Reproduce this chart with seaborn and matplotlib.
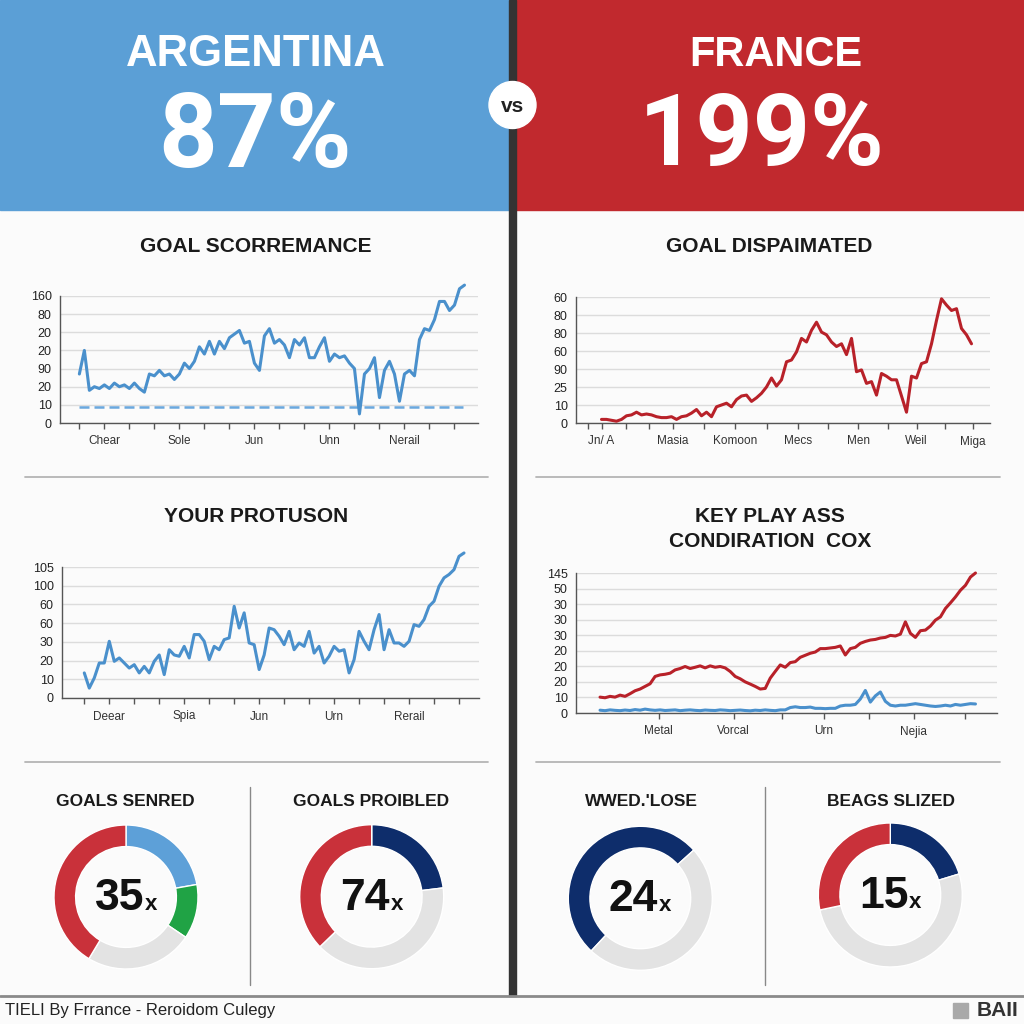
import numpy as np
import pandas as pd
import matplotlib
matplotlib.use("Agg")
import matplotlib.pyplot as plt
from matplotlib.patches import Rectangle, Circle
import seaborn as sns

sns.set_theme(style="white")
plt.rcParams['font.family'] = ['Liberation Sans', 'DejaVu Sans']

# ---------------- DATA ----------------
team_left = "ARGENTINA"
team_right = "FRANCE"
pct_left = "87%"
pct_right = "199%"

titles = ["GOAL SCORREMANCE", "GOAL DISPAIMATED", "YOUR PROTUSON", "KEY PLAY ASS\nCONDIRATION  COX"]

# chart 1 (Argentina, goal scorremance) - values in grid-row units
arg_goal = [2.7, 4.0, 1.8, 2.0, 1.9, 2.1, 1.9, 2.2, 2.0, 2.1,
            1.9, 2.2, 1.9, 1.7, 2.7, 2.6, 2.9, 2.6, 2.7, 2.4,
            2.7, 3.3, 3.0, 3.4, 4.2, 3.8, 4.5, 3.8, 4.5, 4.1,
            4.7, 4.9, 5.1, 4.4, 4.5, 3.3, 2.9, 4.8, 5.2, 4.4,
            4.6, 4.3, 3.6, 4.6, 4.3, 4.7, 3.6, 3.6, 4.2, 4.7,
            3.4, 3.8, 3.6, 3.7, 3.3, 3.0, 0.5, 2.7, 3.0, 3.6,
            1.4, 2.9, 3.4, 2.7, 1.2, 2.7, 2.9, 2.6, 4.6, 5.2,
            5.1, 5.7, 6.7, 6.7, 6.2, 6.5, 7.4, 7.6]
arg_goal_base = 0.86
arg_goal_ylabels = ["0", "10", "20", "90", "20", "20", "80", "160"]
arg_goal_xlabels = ["Chear", "Sole", "Jun", "Unn", "Nerail"]

# chart 2 (France, goal dispaimated)
fra_goal = [0.2, 0.2, 0.15, 0.1, 0.2, 0.4, 0.45, 0.6, 0.45, 0.5,
            0.45, 0.35, 0.3, 0.3, 0.35, 0.2, 0.35, 0.4, 0.55, 0.75,
            0.4, 0.6, 0.35, 0.9, 1.0, 1.1, 0.9, 1.3, 1.5, 1.55,
            1.2, 1.4, 1.65, 2.0, 2.5, 2.05, 2.4, 3.4, 3.5, 3.95,
            4.7, 4.5, 5.15, 5.6, 5.05, 4.9, 4.5, 4.25, 4.4, 3.8,
            4.7, 2.85, 2.95, 2.2, 2.3, 1.55, 2.75, 2.6, 2.4, 2.4,
            1.5, 0.6, 2.6, 2.5, 3.3, 3.4, 4.4, 5.7, 6.9, 6.55,
            6.25, 6.35, 5.25, 4.9, 4.4]
fra_goal_ylabels = ["0", "10", "25", "90", "60", "80", "80", "60"]
fra_goal_xlabels = ["Jn/ A", "Masia", "Komoon", "Mecs", "Men", "Weil", "Miga"]

# chart 3 (Argentina, your protuson)
arg_prot = [1.34, 0.53, 1.07, 1.87, 1.87, 3.03, 1.96, 2.14, 1.87, 1.6,
            1.78, 1.34, 1.69, 1.34, 1.96, 2.3, 1.25, 2.58, 2.3, 2.23,
            2.76, 2.14, 3.39, 3.39, 3.03, 2.05, 2.76, 2.58, 3.12, 3.21,
            4.9, 3.74, 4.55, 2.94, 2.85, 1.52, 2.3, 3.74, 3.65, 3.3,
            2.85, 3.56, 2.58, 2.94, 2.76, 3.56, 2.4, 2.76, 1.87, 2.23,
            2.76, 2.5, 2.58, 1.34, 2.05, 3.56, 3.03, 2.58, 3.65, 4.46,
            2.58, 3.65, 2.94, 2.94, 2.76, 3.03, 3.92, 3.83, 4.19, 4.9,
            5.17, 5.97, 6.42, 6.6, 6.86, 7.57, 7.75]
arg_prot_ylabels = ["0", "10", "20", "30", "60", "60", "100", "105"]
arg_prot_xlabels = ["Deear", "Spia", "Jun", "Urn", "Rerail"]

# chart 4 (France, key play ass) - two series
fra_key_red = [1.02, 0.98, 1.07, 1.02, 1.15, 1.07, 1.24, 1.43, 1.54, 1.71,
               1.88, 2.35, 2.45, 2.49, 2.56, 2.77, 2.86, 2.99, 2.86, 2.94,
               3.03, 2.9, 3.03, 2.94, 2.99, 2.9, 2.67, 2.35, 2.2, 2.0,
               1.86, 1.71, 1.54, 1.58, 2.24, 2.67, 3.09, 2.94, 3.24, 3.3,
               3.58, 3.71, 3.84, 3.92, 4.14, 4.14, 4.18, 4.22, 4.31, 3.73,
               4.14, 4.22, 4.48, 4.6, 4.69, 4.73, 4.82, 4.86, 4.99, 4.95,
               5.07, 5.86, 5.12, 4.86, 5.29, 5.33, 5.59, 5.97, 6.18, 6.72,
               7.08, 7.46, 7.89, 8.21, 8.74, 9.0]
fra_key_blue = [0.18, 0.15, 0.2, 0.17, 0.15, 0.19, 0.16, 0.22, 0.18, 0.25,
                0.2, 0.17, 0.2, 0.16, 0.18, 0.2, 0.15, 0.18, 0.2, 0.17,
                0.15, 0.19, 0.17, 0.16, 0.2, 0.18, 0.15, 0.17, 0.19, 0.16,
                0.14, 0.18, 0.16, 0.2, 0.17, 0.15, 0.2,
                0.2, 0.35, 0.4, 0.35, 0.35, 0.38, 0.3, 0.3, 0.28, 0.3,
                0.3, 0.45, 0.5, 0.5, 0.55, 0.9, 1.45, 0.7, 1.1, 1.35,
                0.75, 0.5, 0.45, 0.5, 0.5, 0.55, 0.6, 0.55, 0.5, 0.45,
                0.42, 0.45, 0.5, 0.45, 0.55, 0.5, 0.55, 0.6, 0.58]
fra_key_ylabels = ["0", "10", "20", "20", "20", "30", "30", "30", "50", "145"]
fra_key_xlabels = ["Metal", "Vorcal", "Urn", "Nejia"]

# donuts (segment sizes in degrees, clockwise from top)
donut_titles = ["GOALS SENRED", "GOALS PROIBLED", "WWED.'LOSE", "BEAGS SLIZED"]
donut_numbers = ["35", "74", "24", "15"]
donut1_vals = [80, 44, 87, 149]
donut2_vals = [83, 143, 134]
donut3_vals = [185, 175]
donut4_vals = [73, 185, 102]

footer_text = "TIELI By Frrance - Reroidom Culegy"
logo_text = "BAII"

# ---------------- STYLE ----------------
BLUE_BG = "#5B9FD6"
RED_BG = "#C1292E"
LINE_BLUE = "#4A90CC"
LINE_RED = "#B82129"
D_RED = "#C9313A"
D_LBLUE = "#5DA0D8"
D_GREEN = "#20A345"
D_GRAY = "#E3E3E3"
D_NAVY = "#0E2D6B"
TXT = "#1a1a1a"

W = H = 1024
fig = plt.figure(figsize=(10.24, 10.24), dpi=100, facecolor="#fbfbfb")


def rect(x0, y0, x1, y1):
    return [x0 / W, 1 - y1 / H, (x1 - x0) / W, (y1 - y0) / H]


bg = fig.add_axes([0, 0, 1, 1], zorder=0)
bg.set_xlim(0, W)
bg.set_ylim(H, 0)
bg.axis("off")

# header panels
bg.add_patch(Rectangle((0, 0), 510, 210, color=BLUE_BG, zorder=1))
bg.add_patch(Rectangle((514, 0), 510, 210, color=RED_BG, zorder=1))
bg.add_patch(Rectangle((509, 0), 7, 996, color="#333333", zorder=2))
bg.add_patch(Circle((512.5, 105), 23.5, color="white", zorder=3))
bg.text(512.5, 106, "vs", ha="center", va="center", fontsize=15, fontweight="bold",
        color="#222222", zorder=4)

bg.text(256, 55, team_left, ha="center", va="center", fontsize=31.5, fontweight="bold", color="white")
bg.text(776, 55, team_right, ha="center", va="center", fontsize=30, fontweight="bold", color="white")
big_font = ["Roboto", "Liberation Sans", "DejaVu Sans"]
bg.text(255, 138, pct_left, ha="center", va="center", fontsize=74, fontweight="bold",
        color="white", family=big_font)
bg.text(762, 138, pct_right, ha="center", va="center", fontsize=72, fontweight="bold",
        color="white", family=big_font)

# chart titles
bg.text(256, 247, titles[0], ha="center", va="center", fontsize=15, fontweight="bold", color=TXT)
bg.text(769, 247, titles[1], ha="center", va="center", fontsize=15, fontweight="bold", color=TXT)
bg.text(256, 517, titles[2], ha="center", va="center", fontsize=15, fontweight="bold", color=TXT)
bg.text(770, 529, titles[3], ha="center", va="center", fontsize=15, fontweight="bold", color=TXT,
        linespacing=1.45)

# separators
for yy in (477, 762):
    bg.plot([25, 488], [yy, yy], color="#b5b5b5", lw=1.3)
    bg.plot([536, 1000], [yy, yy], color="#b5b5b5", lw=1.3)
bg.plot([250, 250], [787, 985], color="#888888", lw=1)
bg.plot([765, 765], [787, 985], color="#888888", lw=1)

# footer
bg.plot([0, W], [996, 996], color="#8a8a8a", lw=2)
bg.text(5, 1011, footer_text, ha="left", va="center", fontsize=12, color="#222222")
bg.add_patch(Rectangle((953, 1003), 15, 15, color="#a9a9a9"))
bg.text(1018, 1011, logo_text, ha="right", va="center", fontsize=15, fontweight="bold",
        color="#333333")


# ---------------- LINE PANELS ----------------
def line_panel(box, series, colors, xlim, ylabels, xticks, xlabels, minor):
    ax = fig.add_axes(rect(*box), zorder=2)
    ax.set_facecolor("none")
    for vals, col in zip(series, colors):
        df = pd.DataFrame({"t": np.arange(len(vals)), "v": vals})
        sns.lineplot(data=df, x="t", y="v", ax=ax, color=col, lw=2.2, clip_on=False,
                     zorder=3)
    ax.set_xlim(*xlim)
    ax.set_ylim(0, len(ylabels) - 1)
    ax.set_yticks(range(len(ylabels)))
    ax.set_yticklabels(ylabels)
    ax.set_xticks(xticks)
    ax.set_xticklabels(xlabels)
    ax.set_xticks(minor, minor=True)
    ax.set_xlabel("")
    ax.set_ylabel("")
    ax.yaxis.grid(True, color="#dcdcdc", lw=1, zorder=0)
    ax.xaxis.grid(False)
    for s in ("top", "right"):
        ax.spines[s].set_visible(False)
    for s in ("left", "bottom"):
        ax.spines[s].set_color("#555555")
        ax.spines[s].set_linewidth(1)
    ax.tick_params(axis="y", length=0, pad=6, labelsize=9, labelcolor="#222222")
    ax.tick_params(axis="x", which="both", direction="out", length=4, width=1,
                   color="#555555", pad=5, labelsize=8.5, labelcolor="#333333", bottom=True)
    return ax


# chart 1
ax1 = line_panel((60, 296, 478, 423), [arg_goal], [LINE_BLUE], (-3.87, 79.7),
                 arg_goal_ylabels, [5, 20, 35, 50, 65], arg_goal_xlabels,
                 [0, 10, 15, 25, 30, 40, 45, 55, 60, 70, 75])
ax1.hlines(arg_goal_base, 0, len(arg_goal) - 1.2, colors="#6aa8de", lw=1.8,
           linestyles=(0, (4, 2)), zorder=2)

# chart 2
ax2 = line_panel((576, 297, 990, 423), [fra_goal], [LINE_RED], (-5.1, 77.7),
                 fra_goal_ylabels, [0, 14.3, 26.7, 39.3, 51.3, 63, 74.3], fra_goal_xlabels,
                 [-2.8, 4.8, 9.5, 20.5, 33, 45.3, 57.2, 68.7])

# chart 3
ax3 = line_panel((62, 567, 479, 698), [arg_prot], [LINE_BLUE], (-4.46, 79),
                 arg_prot_ylabels, [5, 20, 35, 50, 65], arg_prot_xlabels,
                 [0, 10, 15, 25, 30, 40, 45, 55, 60, 70, 75])

# chart 4
ax4 = line_panel((576, 573, 997, 713), [fra_key_red, fra_key_blue], [LINE_RED, LINE_BLUE],
                 (-4.8, 79.3), fra_key_ylabels, [11.7, 26.7, 44.7, 62.7], fra_key_xlabels,
                 [36.3, 53.7, 73])


# ---------------- DONUTS ----------------
def donut(cx, cy, vals, cols, start, number):
    R = 72
    s = R * 1.05
    ax = fig.add_axes(rect(cx - s, cy - s, cx + s, cy + s), zorder=2)
    ax.pie(vals, colors=cols, startangle=start, counterclock=False, radius=1,
           wedgeprops=dict(width=0.3, edgecolor="white", linewidth=1))
    ax.set_xlim(-1.05, 1.05)
    ax.set_ylim(-1.05, 1.05)
    ax.set_aspect("equal")
    ax.axis("off")
    bg.text(cx + 18, cy + 13, number, ha="right", va="baseline", fontsize=32,
            fontweight="bold", color="#111111")
    bg.text(cx + 19, cy + 13, "x", ha="left", va="baseline", fontsize=16,
            fontweight="bold", color="#111111")


donut(126, 897, donut1_vals, [D_LBLUE, D_GREEN, D_GRAY, D_RED], 90, donut_numbers[0])
donut(371.7, 896.7, donut2_vals, [D_NAVY, D_GRAY, D_RED], 90, donut_numbers[1])
donut(640.3, 898.3, donut3_vals, [D_NAVY, D_GRAY], -133, donut_numbers[2])
donut(890.3, 895, donut4_vals, [D_NAVY, D_GRAY, D_RED], 90, donut_numbers[3])

for tx, t in zip([125, 371, 641, 891], donut_titles):
    bg.text(tx, 801, t, ha="center", va="center", fontsize=12.5, fontweight="bold", color=TXT)

fig.savefig("out.png", dpi=100, facecolor=fig.get_facecolor())
